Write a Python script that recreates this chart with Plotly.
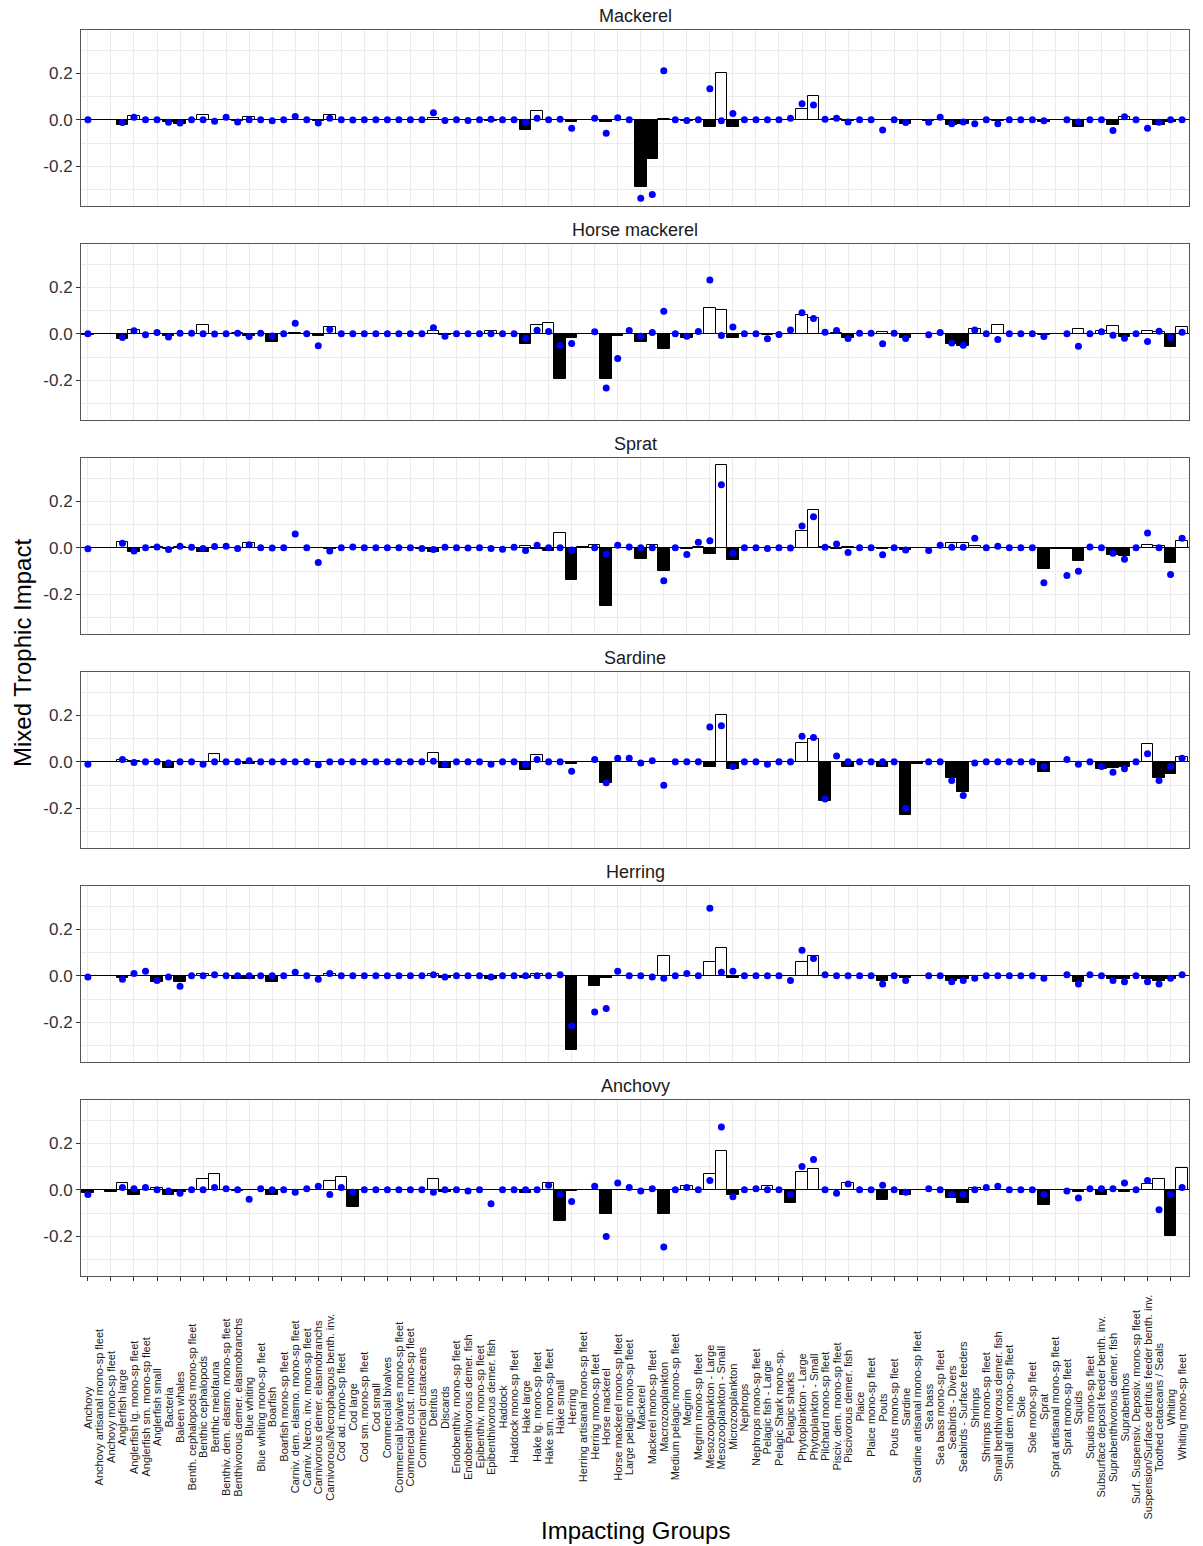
import plotly.graph_objects as go
from plotly.subplots import make_subplots

CATEGORIES = [
    "Anchovy", "Anchovy artisanal mono-sp fleet", "Anchovy mono-sp fleet", "Anglerfish large",
    "Anglerfish lg. mono-sp fleet", "Anglerfish sm. mono-sp fleet", "Anglerfish small", "Bacteria",
    "Baleen whales", "Benth. cephalopods mono-sp fleet", "Benthic cephalopods", "Benthic meiofauna",
    "Benthiv. dem. elasmo. mono-sp fleet", "Benthivorous demer. elasmobranchs", "Blue whiting",
    "Blue whiting mono-sp fleet", "Boarfish", "Boarfish mono-sp fleet",
    "Carniv. dem. elasmo. mono-sp fleet", "Carniv. Necro. inv. mono-sp fleet",
    "Carnivorous demer. elasmobranchs", "Carnivorous/Necrophagous benth. inv.", "Cod ad. mono-sp fleet",
    "Cod large", "Cod sm. mono-sp fleet", "Cod small", "Commercial bivalves",
    "Commercial bivalves mono-sp fleet", "Commercial crust. mono-sp fleet", "Commercial crustaceans",
    "Detritus", "Discards", "Endobenthiv. mono-sp fleet", "Endobenthivorous demer. fish",
    "Epibenthiv. mono-sp fleet", "Epibenthivorous demer. fish", "Haddock", "Haddock mono-sp fleet",
    "Hake large", "Hake lg. mono-sp fleet", "Hake sm. mono-sp fleet", "Hake small", "Herring",
    "Herring artisanal mono-sp fleet", "Herring mono-sp fleet", "Horse mackerel",
    "Horse mackerel mono-sp fleet", "Large pelagic mono-sp fleet", "Mackerel", "Mackerel mono-sp fleet",
    "Macrozooplankton", "Medium pelagic mono-sp fleet", "Megrim", "Megrim mono-sp fleet",
    "Mesozooplankton - Large", "Mesozooplankton - Small", "Microzooplankton", "Nephrops",
    "Nephrops mono-sp fleet", "Pelagic fish - Large", "Pelagic Shark mono-sp.", "Pelagic sharks",
    "Phytoplankton - Large", "Phytoplankton - Small", "Pilchard mono-sp fleet",
    "Pisciv. dem. mono-sp fleet", "Piscivorous demer. fish", "Plaice", "Plaice mono-sp fleet", "Pouts",
    "Pouts mono-sp fleet", "Sardine", "Sardine artisanal mono-sp fleet", "Sea bass",
    "Sea bass mono-sp fleet", "Seabirds - Divers", "Seabirds - Surface feeders", "Shrimps",
    "Shrimps mono-sp fleet", "Small benthivorous demer. fish", "Small dem. mono-sp fleet", "Sole",
    "Sole mono-sp fleet", "Sprat", "Sprat artisanal mono-sp fleet", "Sprat mono-sp fleet", "Squids",
    "Squids mono-sp fleet", "Subsurface deposit feeder benth. inv.", "Suprabenthivorous demer. fish",
    "Suprabenthos", "Surf. Suspensiv. Deposiv. mono-sp fleet",
    "Suspension/Surface detritus feeder benth. inv.", "Toothed cetaceans / Seals", "Whiting",
    "Whiting mono-sp fleet",
]

PANELS = ["Mackerel", "Horse mackerel", "Sprat", "Sardine", "Herring", "Anchovy"]

N = None

MACKEREL_BAR = [
    0, 0, 0, -0.021, 0.017, 0, 0, -0.009, -0.017, 0, 0.021, 0,
    0, -0.006, 0.013, 0, 0, 0, 0, 0, -0.007, 0.02, 0, 0,
    0, 0, 0, 0, 0, 0, 0.01, 0, 0, 0, 0, -0.003,
    0, 0, -0.043, 0.036, 0, 0, -0.009, 0, 0, -0.009, 0, 0,
    -0.287, -0.166, 0.004, 0, -0.004, 0, -0.031, 0.2, -0.029, 0, 0, 0,
    0, 0, 0.047, 0.103, 0, 0.003, -0.004, 0, 0, -0.002, 0, -0.017,
    0, -0.005, 0, -0.024, -0.017, 0, 0, -0.006, 0, 0, 0, -0.011,
    0, 0, -0.029, 0, 0, -0.024, 0.013, 0, 0, -0.021, -0.011, 0,
]
MACKEREL_DOT = [
    0, N, N, -0.011, 0.011, 0, 0.001, -0.01, -0.014, 0, 0, -0.006,
    0.011, -0.009, 0, 0, -0.004, 0, 0.014, 0, -0.014, 0.007, 0, -0.001,
    0, 0, 0, 0, 0, 0, 0.031, -0.003, 0, -0.003, 0, 0.003,
    0, 0, -0.01, 0.007, 0, 0.003, -0.036, N, 0.007, -0.057, 0.009, 0,
    -0.337, -0.321, 0.211, 0, -0.003, 0.001, 0.134, -0.004, 0.027, 0, 0, 0,
    0, 0.007, 0.069, 0.064, 0.003, 0.007, -0.009, 0, 0, -0.044, 0, -0.011,
    N, -0.01, 0.011, -0.017, -0.009, -0.017, 0, -0.017, 0, 0, 0, -0.004,
    N, 0, -0.009, 0, 0, -0.046, 0.013, 0, -0.036, -0.01, 0, 0,
]

HORSE_MACKEREL_BAR = [
    -0.003, 0, 0, -0.021, 0.016, 0, 0, -0.011, 0, 0, 0.037, 0,
    0, 0.003, -0.008, 0, -0.037, 0, 0.003, 0, -0.011, 0.03, 0, 0,
    0, 0, 0, 0, 0, 0, 0.013, -0.006, 0, 0, 0, 0.014,
    0, 0, -0.044, 0.036, 0.046, -0.196, -0.019, 0, 0, -0.193, -0.01, 0,
    -0.037, 0, -0.066, 0, -0.019, 0, 0.109, 0.104, -0.017, 0, 0, -0.004,
    0, 0, 0.079, 0.07, 0, 0.003, -0.017, 0, 0, 0.009, 0, -0.019,
    0, 0, 0, -0.043, -0.05, 0.021, 0, 0.04, 0, 0, 0, -0.004,
    0, 0, 0.021, 0, 0.011, 0.034, -0.014, 0, 0.014, 0.01, -0.056, 0.029,
]
HORSE_MACKEREL_DOT = [
    0, N, N, -0.016, 0.013, -0.004, 0.006, -0.013, 0.003, 0.003, 0, -0.001,
    0, 0.003, -0.011, 0.003, -0.009, 0, 0.046, 0, -0.051, 0.019, 0, 0,
    0, 0, 0, 0, 0, 0, 0.026, -0.01, 0, 0, 0, 0,
    0, 0, -0.02, 0.016, 0.01, -0.05, -0.041, N, 0.009, -0.233, -0.106, 0.014,
    -0.01, 0.006, 0.097, 0, -0.01, 0.01, 0.231, -0.007, 0.03, 0, 0, -0.021,
    -0.003, 0.017, 0.091, 0.066, 0.007, 0.014, -0.02, 0.003, 0.003, -0.043, 0.003, -0.02,
    N, -0.004, 0.006, -0.039, -0.049, 0.017, 0, -0.024, 0, 0, 0, -0.011,
    N, 0, -0.053, 0, 0.009, -0.006, -0.019, 0, -0.033, 0.011, -0.016, 0.007,
]

SPRAT_BAR = [
    0, 0, 0, 0.027, -0.019, 0, 0.004, -0.004, 0.005, 0, -0.019, 0,
    0, 0, 0.021, 0, 0, 0, 0, 0, 0, -0.004, 0, 0,
    0, 0, 0, 0, 0, -0.004, -0.019, 0, 0, 0, 0, 0,
    0, 0, 0.009, -0.004, -0.014, 0.064, -0.14, 0.003, 0.013, -0.251, 0, 0,
    -0.047, 0.013, -0.099, 0, -0.006, 0.003, -0.026, 0.354, -0.051, 0, 0, -0.002,
    0, 0, 0.074, 0.164, 0.002, -0.003, 0.003, 0, 0, -0.003, 0, -0.01,
    0, 0, 0, 0.023, 0.023, 0.009, 0, 0, 0, 0, 0, -0.09,
    -0.003, -0.003, -0.057, 0, 0, -0.029, -0.033, 0, 0.014, 0.01, -0.063, 0.031,
]
SPRAT_DOT = [
    -0.004, N, N, 0.02, -0.013, 0, 0.004, -0.007, 0.007, 0.003, -0.003, 0.006,
    0.007, -0.003, 0.013, 0, -0.001, 0.001, 0.06, 0, -0.063, -0.013, 0, 0.004,
    0, 0, 0, 0, 0, -0.003, -0.007, 0.003, 0.001, -0.001, 0.001, -0.003,
    -0.006, 0.003, -0.011, 0.011, 0, 0.001, -0.009, N, 0.001, -0.026, 0.011, 0.004,
    0.001, 0, -0.141, 0.001, -0.029, 0.024, 0.031, 0.271, -0.023, 0.001, 0.001, -0.003,
    0.001, -0.001, 0.094, 0.134, 0.003, 0.017, -0.02, 0.001, 0.001, -0.03, 0.001, -0.009,
    N, -0.011, 0.011, 0.003, 0.003, 0.041, 0.001, 0.007, 0.001, 0.001, 0.001, -0.15,
    N, -0.119, -0.1, 0.004, 0, -0.023, -0.049, 0.001, 0.064, 0, -0.114, 0.041,
]

SARDINE_BAR = [
    0, 0, 0, 0.01, 0.003, 0, 0, -0.025, 0, 0, 0, 0.035,
    0, 0, -0.01, 0, 0, 0, 0, 0, 0, 0, 0, 0,
    0, 0, 0, 0, 0, 0, 0.04, -0.025, 0, 0, 0, 0,
    0, 0, -0.035, 0.03, 0, 0, -0.01, 0, 0, -0.09, 0, 0,
    0, 0, 0, 0, 0, 0, -0.02, 0.2, -0.03, 0, 0, 0,
    0, 0, 0.08, 0.1, -0.17, 0, -0.02, 0, 0, -0.02, 0, -0.23,
    -0.01, 0, 0, -0.07, -0.13, 0, 0, 0, 0, 0, 0, -0.045,
    0, 0, 0, 0, -0.03, -0.025, -0.02, 0, 0.075, -0.07, -0.05, 0.02,
]
SARDINE_DOT = [
    -0.01, N, N, 0.01, -0.003, 0, 0, -0.005, 0, 0, -0.01, 0,
    0, 0, 0.005, 0, 0, 0, 0, 0, -0.012, 0, 0, 0,
    0, 0, 0, 0, 0, 0, 0.003, -0.01, 0, 0, 0, -0.01,
    0, 0, -0.01, 0.01, 0, 0, -0.04, N, 0.01, -0.09, 0.015, 0.015,
    -0.005, 0.005, -0.1, 0, 0, 0, 0.15, 0.155, -0.02, 0, 0, -0.01,
    0, 0, 0.11, 0.105, -0.16, 0.025, 0, 0, 0, 0, 0, -0.2,
    N, 0, 0, -0.08, -0.145, -0.005, 0, 0, 0, 0, 0, -0.02,
    N, 0.01, -0.01, 0, -0.02, -0.045, -0.03, 0, 0.035, -0.08, -0.02, 0.015,
]

HERRING_BAR = [
    0, 0, 0, -0.01, 0, 0, -0.025, 0, -0.025, 0, 0.008, 0,
    0, -0.015, -0.015, 0, -0.025, 0, 0, 0, 0, 0.01, 0, 0,
    0, 0, 0, 0, 0, 0, 0.01, -0.01, 0, 0, 0, -0.015,
    0, 0, -0.01, 0.01, 0, 0, -0.32, 0, -0.045, -0.01, 0, 0,
    0, 0, 0.085, 0, 0, 0, 0.06, 0.12, -0.01, 0, 0, 0,
    0, 0, 0.06, 0.085, 0, 0, 0, 0, 0, -0.02, 0, -0.01,
    0, 0, 0, -0.02, -0.015, 0, 0, 0, 0, 0, 0, 0,
    0, 0, -0.025, 0, 0, -0.015, -0.015, 0, -0.015, -0.02, -0.015, 0,
]
HERRING_DOT = [
    -0.005, N, N, -0.015, 0.01, 0.02, -0.02, -0.005, -0.045, 0, 0, 0.005,
    0, 0, 0, 0, 0, 0, 0.015, 0, -0.015, 0.01, 0, 0,
    0, 0, 0, 0, 0, 0, 0.005, -0.005, 0, 0, 0, -0.005,
    0, 0, 0, 0, 0, 0.005, -0.215, N, -0.155, -0.14, 0.02, 0,
    0, -0.005, -0.01, 0, 0.01, 0, 0.29, 0.015, 0.02, 0, 0, 0,
    0, -0.02, 0.11, 0.075, 0.005, 0, 0, 0, 0, -0.035, 0, -0.02,
    N, 0, 0, -0.025, -0.02, -0.01, 0, 0, 0, 0, 0, -0.01,
    N, 0.005, -0.035, 0.005, 0, -0.02, -0.025, 0, -0.025, -0.035, -0.01, 0.005,
]

ANCHOVY_BAR = [
    -0.015, 0, -0.008, 0.03, -0.02, 0, 0.01, -0.02, -0.01, 0, 0.045, 0.07,
    0, -0.005, 0, 0, -0.02, 0, 0, 0, 0, 0.04, 0.055, -0.075,
    0, 0, 0, 0, 0, 0, 0.045, -0.01, 0, 0, 0, 0,
    0, 0, -0.015, 0, 0.03, -0.135, -0.005, 0, 0, -0.105, 0, 0,
    0, 0, -0.105, 0, 0.015, 0, 0.07, 0.165, -0.02, 0, 0, 0.015,
    0, -0.055, 0.075, 0.09, 0, 0, 0.03, 0, 0, -0.045, 0, -0.02,
    0, 0, 0, -0.035, -0.055, 0.01, 0, 0, 0, 0, 0, -0.065,
    0, 0, -0.01, 0, -0.02, 0, -0.01, 0, 0.025, 0.045, -0.2, 0.095,
]
ANCHOVY_DOT = [
    -0.02, N, N, 0.01, 0.005, 0.01, 0, -0.005, -0.015, 0, 0, 0.01,
    0.005, 0, -0.04, 0.005, 0, 0, -0.01, 0.005, 0.015, -0.02, 0.01, -0.01,
    0, 0, 0, 0, 0, 0, -0.01, 0, 0, -0.005, 0, -0.06,
    0, 0, 0, 0, 0.02, -0.02, -0.05, N, 0.015, -0.2, 0.03, 0.01,
    -0.005, 0.005, -0.245, 0, 0.01, 0, 0.04, 0.27, -0.03, 0, 0.005, 0,
    0, -0.02, 0.1, 0.13, 0, -0.015, 0.025, 0, 0, 0.02, 0, -0.01,
    N, 0.005, 0, -0.02, -0.02, 0, 0.01, 0.015, 0, 0, 0, -0.02,
    N, -0.005, -0.035, 0.005, 0.005, 0.005, 0.03, 0, 0.04, -0.085, -0.02, 0.01,
]

BARS = [MACKEREL_BAR, HORSE_MACKEREL_BAR, SPRAT_BAR, SARDINE_BAR, HERRING_BAR, ANCHOVY_BAR]
DOTS = [MACKEREL_DOT, HORSE_MACKEREL_DOT, SPRAT_DOT, SARDINE_DOT, HERRING_DOT, ANCHOVY_DOT]

Y_TICKS = [-0.2, 0.0, 0.2]
Y_TICK_TEXT = ["-0.2", "0.0", "0.2"]
Y_MINOR = [-0.3, -0.1, 0.1, 0.3]

FONT = "Liberation Sans, Arial, sans-serif"
W, H = 1203, 1546
M_L, M_R, M_T, M_B = 81, 14, 30, 270
PLOT_H = H - M_T - M_B

def py(px):
    return (H - M_B - px) / PLOT_H

def pxx(px):
    return (px - M_L) / (W - M_L - M_R)

fig = make_subplots(rows=6, cols=1, vertical_spacing=38 / PLOT_H)

for i, (bars, dots) in enumerate(zip(BARS, DOTS)):
    r = i + 1
    colors = ["black" if v < 0 else "white" for v in bars]
    fig.add_trace(go.Bar(x=CATEGORIES, y=bars, width=1.0,
                         marker=dict(color=colors, line=dict(color="black", width=1)),
                         showlegend=False, hoverinfo="x+y"), row=r, col=1)
    fig.add_trace(go.Scatter(x=CATEGORIES, y=dots, mode="markers",
                             marker=dict(color="#0000FF", size=7),
                             showlegend=False), row=r, col=1)
    fig.update_yaxes(row=r, col=1, range=[-0.370, 0.386], tickvals=Y_TICKS, ticktext=Y_TICK_TEXT,
                     tickfont=dict(size=17, color="#333333", family=FONT),
                     ticks="outside", ticklen=4, tickcolor="#333333",
                     showgrid=True, gridcolor="#EBEBEB", gridwidth=1,
                     minor=dict(tickvals=Y_MINOR, showgrid=True, gridcolor="#EBEBEB", gridwidth=0.6),
                     zeroline=True, zerolinecolor="black", zerolinewidth=1.4,
                     showline=True, mirror=True, linecolor="#555555", linewidth=1)
    fig.update_xaxes(row=r, col=1, type="category", categoryorder="array", categoryarray=CATEGORIES,
                     range=[-0.6, len(CATEGORIES) - 0.4], showticklabels=False,
                     showgrid=True, gridcolor="#EBEBEB", gridwidth=1,
                     ticks="outside" if r == 6 else "", ticklen=4, tickcolor="#333333",
                     showline=True, mirror=True, linecolor="#555555", linewidth=1)

annotations = []
for i, name in enumerate(PANELS):
    annotations.append(dict(text=name, xref="paper", yref="paper", x=0.5, y=py(16 + 214 * i),
                            showarrow=False, xanchor="center", yanchor="middle",
                            font=dict(size=18, color="#1A1A1A", family=FONT)))

for c in CATEGORIES:
    annotations.append(dict(text=c, xref="x6", yref="paper", x=c, y=py(1407),
                            showarrow=False, textangle=-90, xanchor="center", yanchor="middle",
                            font=dict(size=11, color="#1A1A1A", family=FONT)))

annotations.append(dict(text="Mixed Trophic Impact", xref="paper", yref="paper", x=pxx(22), y=py(653),
                        showarrow=False, textangle=-90, xanchor="center", yanchor="middle",
                        font=dict(size=24, color="black", family=FONT)))
annotations.append(dict(text="Impacting Groups", xref="paper", yref="paper", x=pxx(635), y=py(1530),
                        showarrow=False, xanchor="center", yanchor="middle",
                        font=dict(size=24, color="black", family=FONT)))

fig.update_layout(width=W, height=H, margin=dict(l=M_L, r=M_R, t=M_T, b=M_B),
                  plot_bgcolor="white", paper_bgcolor="white", bargap=0,
                  font=dict(family=FONT), annotations=annotations)

fig.write_html("out.html")
